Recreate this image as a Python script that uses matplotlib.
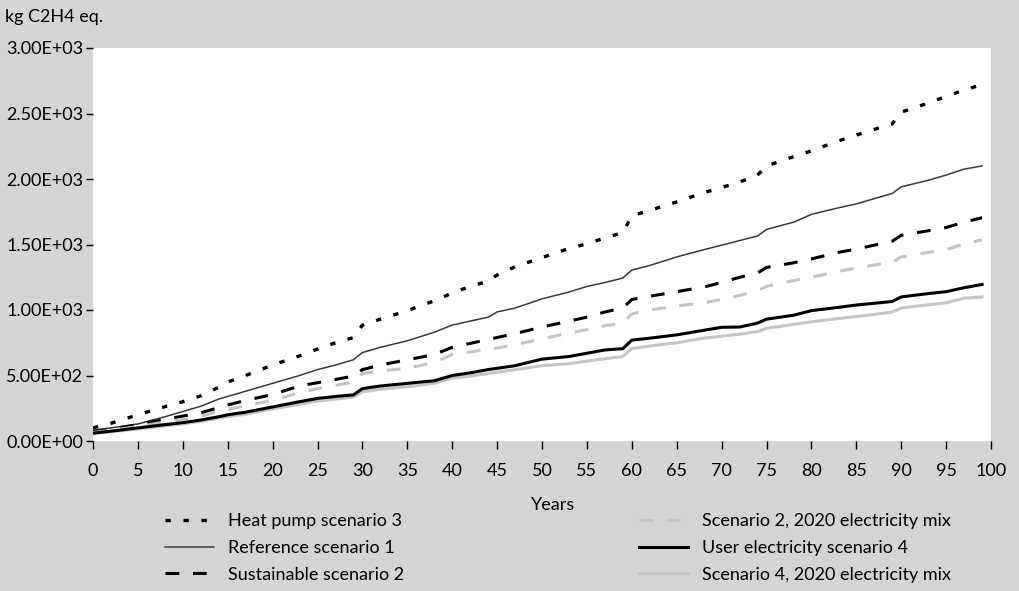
import numpy as np
import matplotlib
matplotlib.use('Agg')
import matplotlib.pyplot as plt
from matplotlib.ticker import FuncFormatter

plt.rcParams['font.family'] = ['Lato', 'DejaVu Sans']
plt.rcParams['font.size'] = 13

bg = '#d3d4d6'

# years (points chosen around the steps)
years = [0, 2, 5, 8, 10, 12, 14, 15, 17, 20, 23, 25, 27, 29, 30, 32, 35, 38, 40, 42, 44, 45, 47, 50,
         53, 55, 57, 59, 60, 62, 65, 68, 70, 72, 74, 75, 78, 80, 83, 85, 88, 89, 90, 93, 95, 97, 99]

heat_pump_3 = [100, 135, 200, 262, 300, 345, 410, 450, 500, 580, 649, 702, 750, 790, 885, 930, 995, 1070,
               1130, 1180, 1220, 1267, 1330, 1400, 1470, 1505, 1550, 1590, 1720, 1760, 1825, 1895, 1935,
               1977, 2030, 2100, 2170, 2215, 2290, 2335, 2400, 2420, 2510, 2580, 2630, 2680, 2720]
reference_1 = [84, 100, 130, 185, 225, 265, 320, 340, 380, 440, 500, 545, 580, 620, 675, 715, 765, 830,
               885, 915, 945, 985, 1015, 1085, 1137, 1180, 1210, 1244, 1305, 1340, 1405, 1460, 1495,
               1530, 1565, 1615, 1670, 1730, 1780, 1810, 1870, 1890, 1940, 1990, 2030, 2075, 2100]
sustainable_2 = [70, 90, 125, 165, 190, 215, 255, 275, 310, 355, 420, 445, 470, 495, 545, 580, 620, 660,
                 715, 745, 775, 790, 820, 870, 915, 945, 985, 1015, 1080, 1105, 1140, 1175, 1210,
                 1250, 1282, 1325, 1360, 1390, 1440, 1465, 1510, 1525, 1570, 1605, 1630, 1670, 1705]
scen2_2020 = [65, 82, 110, 145, 165, 190, 225, 240, 270, 310, 370, 400, 425, 450, 515, 535, 555, 600,
              660, 680, 700, 710, 735, 780, 824, 850, 880, 900, 970, 1000, 1030, 1055, 1080,
              1110, 1150, 1180, 1225, 1250, 1295, 1320, 1355, 1365, 1405, 1440, 1460, 1505, 1535]
user_elec_4 = [60, 75, 100, 125, 140, 160, 185, 200, 220, 260, 300, 325, 340, 352, 400, 420, 440, 460,
               500, 520, 545, 555, 575, 625, 645, 670, 695, 705, 770, 785, 810, 845, 868,
               870, 900, 930, 960, 995, 1020, 1038, 1058, 1065, 1100, 1125, 1140, 1170, 1195]
scen4_2020 = [55, 70, 92, 115, 130, 150, 175, 185, 205, 245, 280, 305, 320, 335, 375, 395, 415, 440,
              480, 495, 515, 525, 545, 575, 590, 610, 628, 645, 705, 725, 750, 785, 800,
              815, 835, 860, 890, 910, 935, 950, 975, 985, 1015, 1040, 1055, 1090, 1100]

fig = plt.figure(figsize=(10.19, 5.91), dpi=100, facecolor=bg)
ax = fig.add_axes([93/1019, 1-441/591, (991-93)/1019, (441-48)/591])
ax.set_facecolor('white')

l1, = ax.plot(years, heat_pump_3, color='black', lw=2.4, dashes=(1.6, 3.8), label='Heat pump scenario 3')
l2, = ax.plot(years, reference_1, color='#3a3a3a', lw=1.1, label='Reference scenario 1')
l3, = ax.plot(years, sustainable_2, color='black', lw=2.2, dashes=(4.5, 4.5), label='Sustainable scenario 2')
l4, = ax.plot(years, scen2_2020, color='#c4c4c4', lw=2.2, dashes=(4.5, 4.5), label='Scenario 2, 2020 electricity mix')
l6, = ax.plot(years, scen4_2020, color='#c4c4c4', lw=2.2, label='Scenario 4, 2020 electricity mix')
l5, = ax.plot(years, user_elec_4, color='black', lw=2.2, label='User electricity scenario 4')

ax.set_xlim(0, 99.8)
ax.set_ylim(0, 3000)
ax.set_xticks(np.arange(0, 101, 5))
ax.set_yticks(np.arange(0, 3001, 500))
ax.yaxis.set_major_formatter(FuncFormatter(lambda v, p: '%.2E' % v))
for s in ax.spines.values():
    s.set_visible(False)
ax.tick_params(axis='x', length=6, width=1, pad=10, colors='black')
ax.tick_params(axis='y', length=5, width=1, pad=2, colors='black')

fig.text(5/1019, 1-17/591, 'kg C2H4 eq.', ha='left', va='center')
fig.text(553/1019, 1-505/591, 'Years', ha='center', va='center')

leg1 = fig.legend(handles=[l1, l2, l3], loc='upper left', bbox_to_anchor=(156/1019, 1-504/591),
                  frameon=False, borderpad=0, handlelength=2.7, handletextpad=0.8, labelspacing=0.6)
leg2 = fig.legend(handles=[l4, l5, l6], loc='upper left', bbox_to_anchor=(630/1019, 1-504/591),
                  frameon=False, borderpad=0, handlelength=2.7, handletextpad=0.8, labelspacing=0.6)

fig.savefig('out.png', dpi=100, facecolor=bg)
